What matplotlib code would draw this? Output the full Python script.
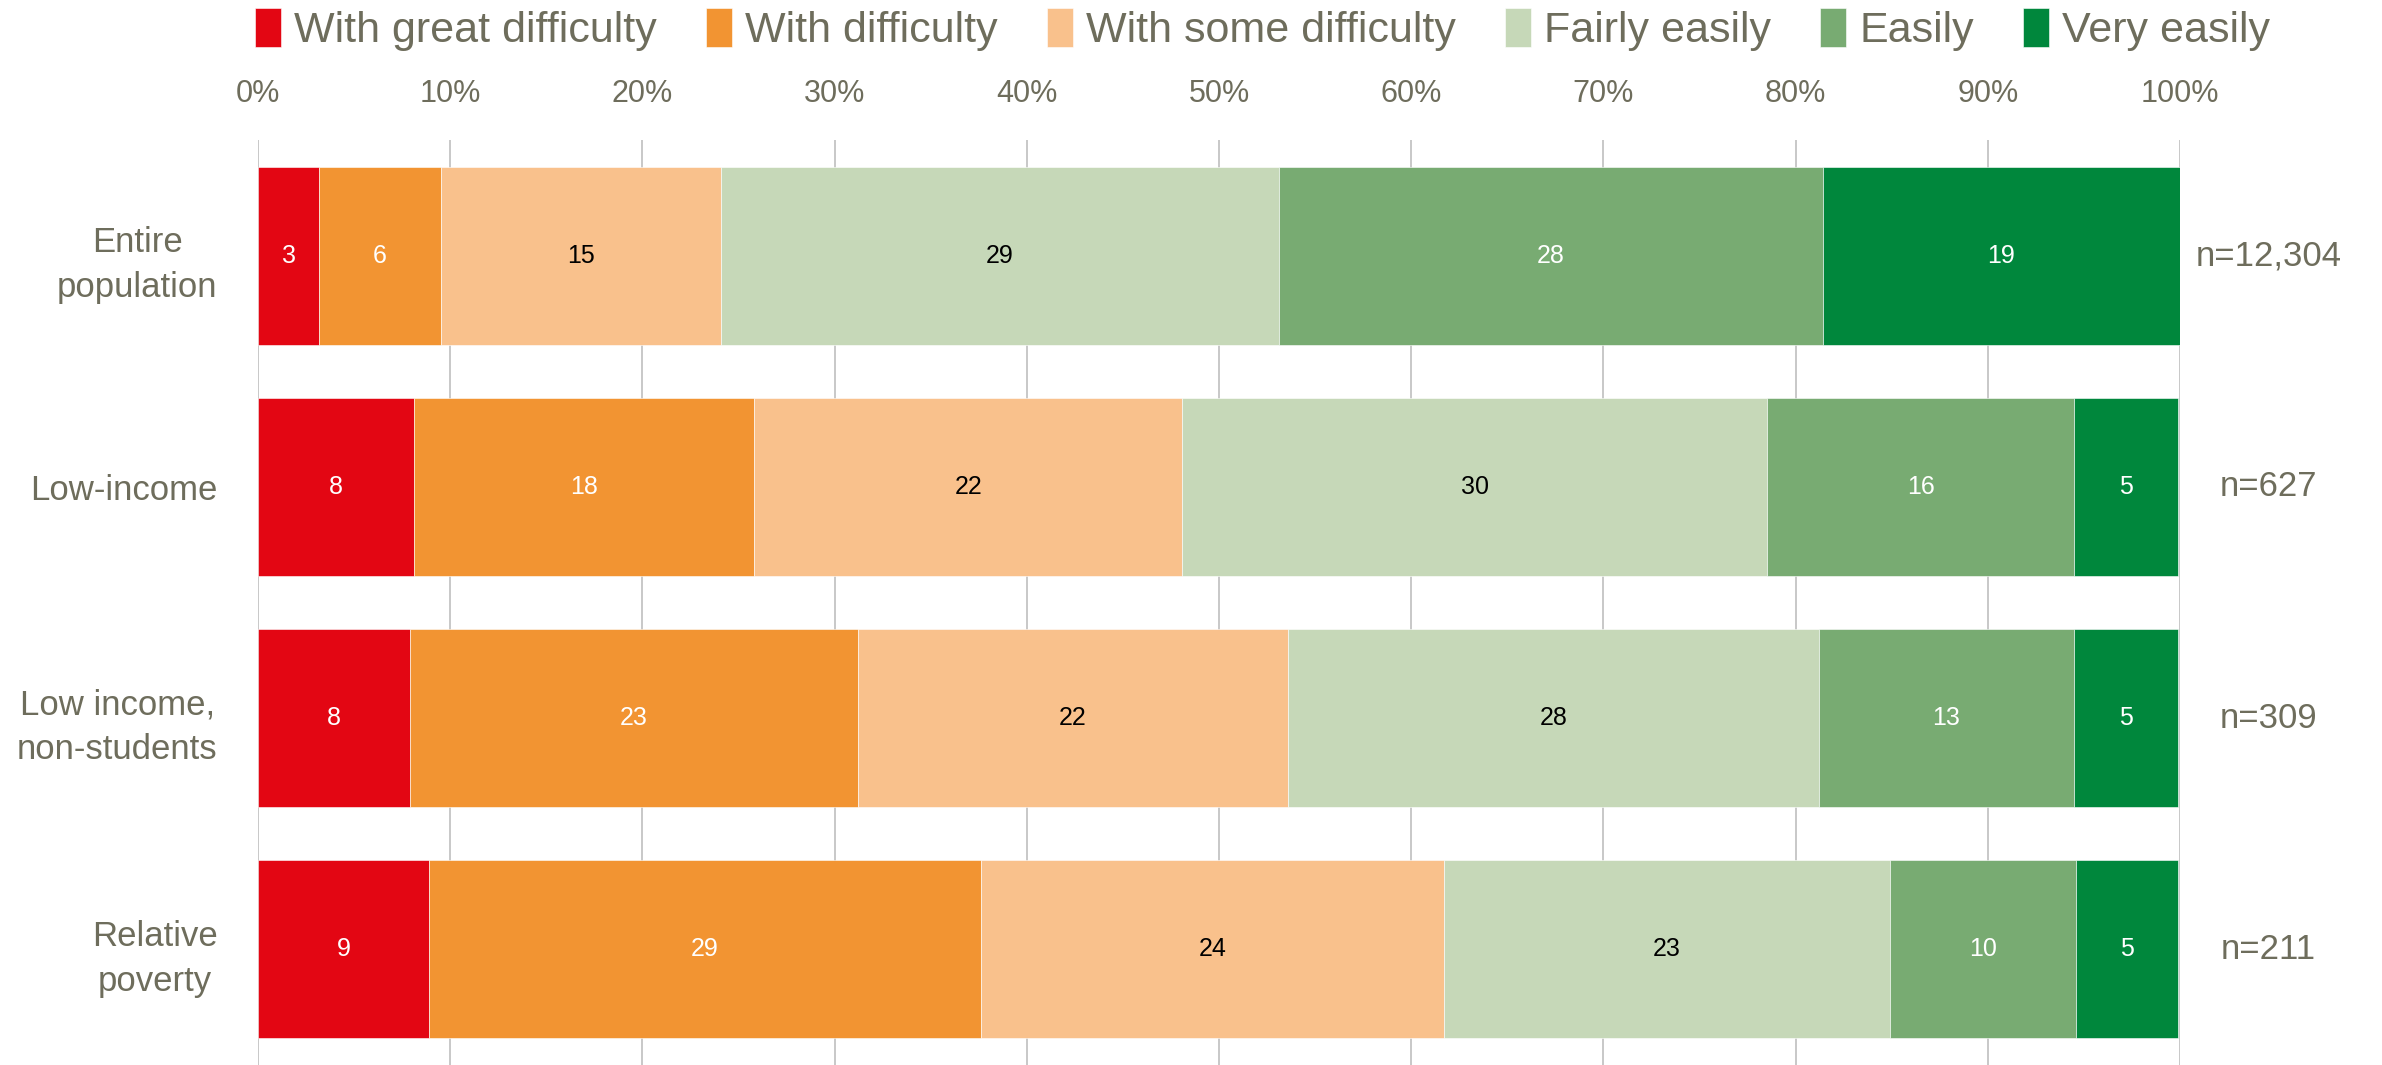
import numpy as np
import matplotlib.pyplot as plt

plt.rcParams['font.family'] = ['Liberation Sans', 'DejaVu Sans']

# Datos (porcentajes)
groups = ['Entire\npopulation', 'Low-income', 'Low income,\nnon-students', 'Relative\npoverty']
n_labels = ['n=12,304', 'n=627', 'n=309', 'n=211']
categories = ['With great difficulty', 'With difficulty', 'With some difficulty',
              'Fairly easily', 'Easily', 'Very easily']
great_difficulty = [3.2, 8.1, 7.9, 8.9]
difficulty = [6.3, 17.7, 23.3, 28.7]
some_difficulty = [14.6, 22.3, 22.4, 24.1]
fairly_easily = [29.0, 30.4, 27.6, 23.2]
easily = [28.3, 16.0, 13.3, 9.7]
very_easily = [18.6, 5.4, 5.4, 5.3]

series = [great_difficulty, difficulty, some_difficulty, fairly_easily, easily, very_easily]
colors = ['#E30613', '#F29432', '#F9C18C', '#C6D8B8', '#78AB72', '#00873C']
label_colors = ['white', 'white', 'black', 'black', 'white', 'white']
text_gray = '#6E6D5C'

fig = plt.figure(figsize=(23.82, 10.65), dpi=100)
ax = fig.add_axes([0.1083, 0.0, 0.8069, 0.8685])

y = np.arange(len(groups))
left = np.zeros(len(groups))
for vals, col, lc, name in zip(series, colors, label_colors, categories):
    bars = ax.barh(y, vals, left=left, height=0.77, color=col, label=name,
                   edgecolor='white', linewidth=0.4, zorder=2)
    for b, v in zip(bars, vals):
        ax.text(b.get_x() + b.get_width() / 2, b.get_y() + b.get_height() / 2,
                f"{v:.0f}", ha='center', va='center', color=lc, fontsize=18, zorder=3)
    left += np.array(vals)

# Etiquetas n= a la derecha
for yi, lab in zip(y, n_labels):
    ax.text(104.6, yi, lab, ha='center', va='center', color=text_gray, fontsize=25,
            clip_on=False)

ax.set_xlim(0, 100)
ax.set_ylim(3.5, -0.5)
ax.set_xticks(np.arange(0, 101, 10))
ax.set_xticklabels([f"{t}%" for t in range(0, 101, 10)])
ax.xaxis.tick_top()
ax.tick_params(axis='x', length=0, pad=22, labelsize=22, labelcolor=text_gray)
ax.set_yticks(y)
ax.set_yticklabels(groups)
ax.tick_params(axis='y', length=0, pad=29, labelsize=25, labelcolor=text_gray)
for t in ax.get_yticklabels():
    t.set_multialignment('center')
    t.set_linespacing(1.45)
ax.grid(axis='x', color='#BFBFBF', linewidth=1.2, zorder=0)
ax.set_axisbelow(True)
for s in ax.spines.values():
    s.set_visible(False)

fig.legend(loc='center', bbox_to_anchor=(0.53, 0.972), ncol=6, frameon=False,
           fontsize=31, handlelength=0.6, handleheight=1.0, handletextpad=0.3,
           columnspacing=1.15, labelcolor=text_gray)

plt.savefig('out.png', dpi=100)
